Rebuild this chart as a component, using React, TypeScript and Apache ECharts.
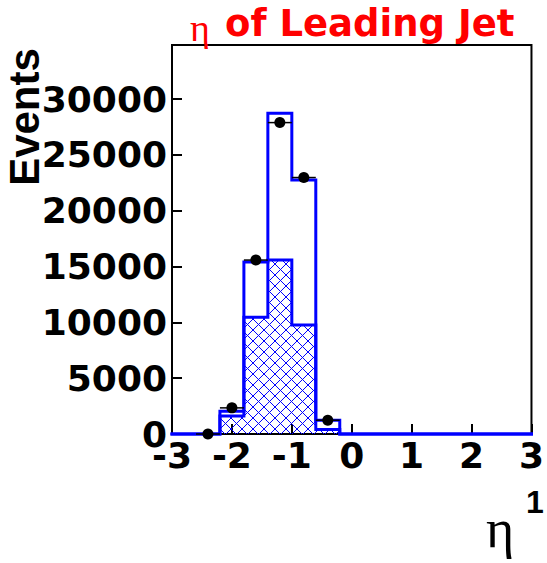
import React, { useEffect, useRef } from "react";
import * as echarts from "echarts";

// Bin edges of the eta histogram (15 bins of width 0.4 from -3 to 3)
const binEdges = [-3.0, -2.6, -2.2, -1.8, -1.4, -1.0, -0.6, -0.2, 0.2, 0.6, 1.0, 1.4, 1.8, 2.2, 2.6, 3.0];
// Open (outline) histogram contents
const totalCounts = [0, 0, 2040, 15400, 28730, 22740, 1235, 0, 0, 0, 0, 0, 0, 0, 0];
// Hatched histogram contents
const hatchedCounts = [0, 0, 1610, 10450, 15580, 9770, 400, 0, 0, 0, 0, 0, 0, 0, 0];
// Data points (bin centres and values)
const dataX = [-2.4, -2.0, -1.6, -1.2, -0.8, -0.4];
const dataY = [0, 2340, 15580, 27890, 22970, 1235];
const dataHalfWidth = 0.2;

const xMin = -3;
const xMax = 3;
const yMin = 0;
const yMax = 34840;

const BLUE = "#0000ff";

function stepPoints(counts: number[]) {
  const pts: number[][] = [];
  for (let i = 0; i < counts.length; i++) {
    pts.push([binEdges[i], counts[i]]);
    pts.push([binEdges[i + 1], counts[i]]);
  }
  return pts;
}

export default function App() {
  const ref = useRef<HTMLDivElement>(null);

  useEffect(() => {
    if (!ref.current) return;
    const chart = echarts.init(ref.current, null, { renderer: "svg" });

    const hatchData = hatchedCounts
      .map((v, i) => [binEdges[i], binEdges[i + 1], v])
      .filter((d) => d[2] > 0);

    const errData = dataX.map((x, i) => [x - dataHalfWidth, x + dataHalfWidth, dataY[i]]);

    const option: any = {
      animation: false,
      backgroundColor: "#ffffff",
      grid: {
        left: 172,
        right: 12,
        top: 45,
        bottom: 129,
        show: true,
        borderColor: "#000",
        borderWidth: 2,
        backgroundColor: "transparent",
      },
      xAxis: {
        type: "value",
        min: xMin,
        max: xMax,
        interval: 1,
        axisLine: { show: true, onZero: false, lineStyle: { color: "#000", width: 2 } },
        axisTick: { show: true, inside: true, length: 10, lineStyle: { color: "#000", width: 2 } },
        axisLabel: {
          color: "#000",
          fontFamily: "DejaVu Sans",
          fontWeight: "bold",
          fontSize: 36,
          margin: 3,
          showMinLabel: true,
          showMaxLabel: true,
          formatter: (v: number) => String(v),
        },
        splitLine: { show: false },
      },
      yAxis: {
        type: "value",
        min: yMin,
        max: yMax,
        interval: 5000,
        axisLine: { show: true, onZero: false, lineStyle: { color: "#000", width: 2 } },
        axisTick: { show: true, inside: true, length: 10, lineStyle: { color: "#000", width: 2 } },
        axisLabel: {
          color: "#000",
          fontFamily: "DejaVu Sans",
          fontWeight: "bold",
          fontSize: 36,
          margin: 5,
          showMaxLabel: false,
          formatter: (v: number) => String(v),
        },
        splitLine: { show: false },
      },
      graphic: [
        {
          type: "text",
          left: 190,
          top: 9,
          style: {
            text: "η",
            font: "normal 38px 'Liberation Serif'",
            fill: "#ff0000",
          },
        },
        {
          type: "text",
          left: 225,
          top: 5,
          style: {
            text: "of Leading Jet",
            font: "bold 37px 'DejaVu Sans'",
            fill: "#ff0000",
          },
        },
        {
          type: "text",
          x: 24,
          y: 117,
          rotation: Math.PI / 2,
          style: {
            text: "Events",
            font: "bold 42px 'Liberation Sans'",
            fill: "#000",
            align: "center",
            verticalAlign: "middle",
          },
        },
        {
          type: "text",
          left: 486,
          top: 502,
          style: {
            text: "η",
            font: "normal 54px 'Liberation Serif'",
            fill: "#000",
          },
        },
        {
          type: "text",
          left: 526,
          top: 486,
          style: {
            text: "1",
            font: "bold 32px 'Liberation Sans'",
            fill: "#000",
          },
        },
      ],
      series: [
        {
          type: "custom",
          silent: true,
          z: 1,
          clip: true,
          data: hatchData,
          encode: { x: [0, 1], y: 2 },
          renderItem: (params: any, api: any) => {
            const lo = api.value(0);
            const hi = api.value(1);
            const v = api.value(2);
            const a = api.coord([lo, v]);
            const b = api.coord([hi, 0]);
            const x0 = Math.min(a[0], b[0]);
            const x1 = Math.max(a[0], b[0]);
            const y0 = Math.min(a[1], b[1]);
            const y1 = Math.max(a[1], b[1]);
            const s = 11;
            const children: any[] = [];
            const st = { stroke: BLUE, lineWidth: 1 };
            const cMin = x0 - y1;
            const cMax = x1 - y0;
            for (let c = Math.ceil(cMin / s) * s; c <= cMax; c += s) {
              const xa = Math.max(x0, y0 + c);
              const xb = Math.min(x1, y1 + c);
              if (xb > xa) children.push({ type: "line", shape: { x1: xa, y1: xa - c, x2: xb, y2: xb - c }, style: st });
            }
            const dMin = x0 + y0;
            const dMax = x1 + y1;
            for (let d = Math.ceil(dMin / s) * s; d <= dMax; d += s) {
              const xa = Math.max(x0, d - y1);
              const xb = Math.min(x1, d - y0);
              if (xb > xa) children.push({ type: "line", shape: { x1: xa, y1: d - xa, x2: xb, y2: d - xb }, style: st });
            }
            return { type: "group", children };
          },
        },
        {
          type: "line",
          z: 2,
          data: stepPoints(hatchedCounts),
          showSymbol: false,
          symbol: "none",
          silent: true,
          clip: false,
          lineStyle: { color: BLUE, width: 3, join: "miter", cap: "square" },
        },
        {
          type: "line",
          z: 3,
          data: stepPoints(totalCounts),
          showSymbol: false,
          symbol: "none",
          silent: true,
          clip: false,
          lineStyle: { color: BLUE, width: 3, join: "miter", cap: "square" },
        },
        {
          type: "custom",
          z: 4,
          silent: true,
          clip: false,
          data: errData,
          encode: { x: [0, 1], y: 2 },
          renderItem: (params: any, api: any) => {
            const a = api.coord([api.value(0), api.value(2)]);
            const b = api.coord([api.value(1), api.value(2)]);
            return {
              type: "line",
              shape: { x1: a[0], y1: a[1], x2: b[0], y2: b[1] },
              style: { stroke: "#000", lineWidth: 1.5 },
            };
          },
        },
        {
          type: "scatter",
          z: 5,
          clip: false,
          silent: true,
          symbol: "circle",
          symbolSize: 11,
          itemStyle: { color: "#000", opacity: 1 },
          data: dataX.map((x, i) => [x, dataY[i]]),
        },
      ],
    };

    chart.setOption(option);
    return () => {
      chart.dispose();
    };
  }, []);

  return (
    <div
      ref={ref}
      style={{ position: "fixed", left: 0, top: 0, width: 547, height: 563, background: "#fff" }}
    />
  );
}
